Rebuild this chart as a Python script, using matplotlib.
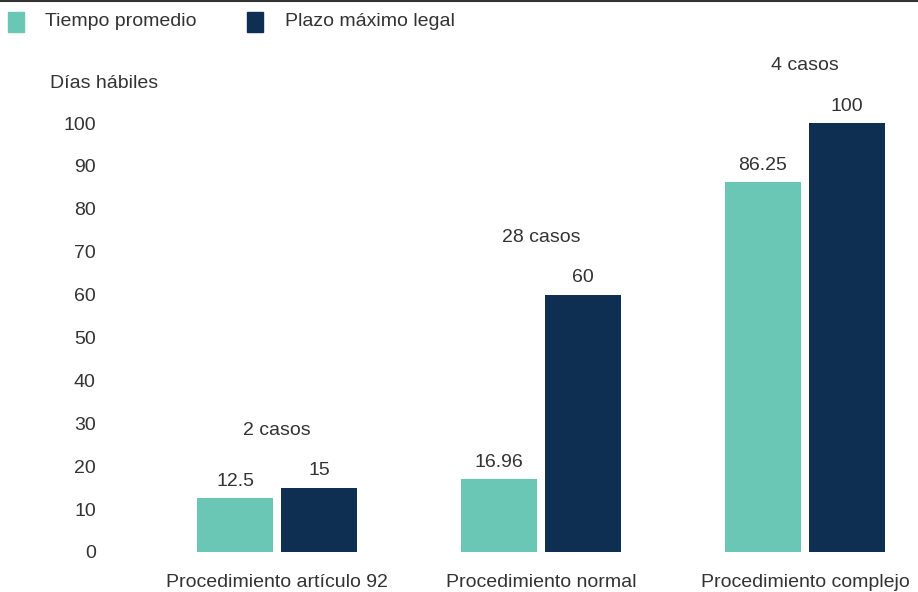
import matplotlib
matplotlib.use("Agg")
import matplotlib.pyplot as plt
from matplotlib.patches import Rectangle
from matplotlib.lines import Line2D
import numpy as np

# --- data ---
categories = ["Procedimiento artículo 92", "Procedimiento normal", "Procedimiento complejo"]
tiempo_promedio = [12.5, 16.96, 86.25]
plazo_maximo = [15, 60, 100]
casos = ["2 casos", "28 casos", "4 casos"]
series_names = ["Tiempo promedio", "Plazo máximo legal"]

teal = "#6BC7B5"
navy = "#0F2F52"
text_col = "#333333"
fs = 14

plt.rcParams['font.family'] = ['Liberation Sans', 'DejaVu Sans']
plt.rcParams['font.size'] = fs

fig = plt.figure(figsize=(9.18, 5.92), dpi=100)
ax = fig.add_axes([100/918, 40/592, 818/918, 512/592])

x = np.arange(len(categories))
w = 0.288
off = 0.159
bars1 = ax.bar(x - off, tiempo_promedio, w, color=teal)
bars2 = ax.bar(x + off, plazo_maximo, w, color=navy)

# value labels
for bars, vals in [(bars1, tiempo_promedio), (bars2, plazo_maximo)]:
    for b, v in zip(bars, vals):
        ax.annotate(f"{v:g}", (b.get_x() + b.get_width()/2, v),
                    xytext=(0, 6), textcoords="offset points",
                    ha="center", va="bottom", color=text_col, fontsize=fs)

# case counts above each group
for xi, c, a, b in zip(x, casos, tiempo_promedio, plazo_maximo):
    ax.annotate(c, (xi, max(a, b)), xytext=(0, 35), textcoords="offset points",
                ha="center", va="bottom", color=text_col, fontsize=fs)

ax.set_xlim((100 - 277) / 264, (918 - 277) / 264)
ax.set_ylim(0, 512 / 4.29)
ax.set_yticks(range(0, 101, 10))
ax.set_xticks(x)
ax.set_xticklabels(categories)
ax.tick_params(axis="both", length=0, colors=text_col, labelsize=fs)
ax.tick_params(axis="y", pad=3)
ax.tick_params(axis="x", pad=16)
for s in ax.spines.values():
    s.set_visible(False)

fig.text(50/918, 1 - 84/592, "Días hábiles", ha="left", va="center",
         color=text_col, fontsize=fs)

# legend
for lx, tx, col, name in [(8, 45, teal, series_names[0]), (247, 285, navy, series_names[1])]:
    fig.patches.append(Rectangle((lx/918, 1 - 32/592), 16/918, 20/592,
                                 transform=fig.transFigure, color=col))
    fig.text(tx/918, 1 - 22/592, name, ha="left", va="center",
             color=text_col, fontsize=fs)

# top rule
fig.lines.append(Line2D([0, 1], [1 - 1/592, 1 - 1/592], transform=fig.transFigure,
                        color="#333333", linewidth=1.5))

fig.savefig("out.png", dpi=100)
